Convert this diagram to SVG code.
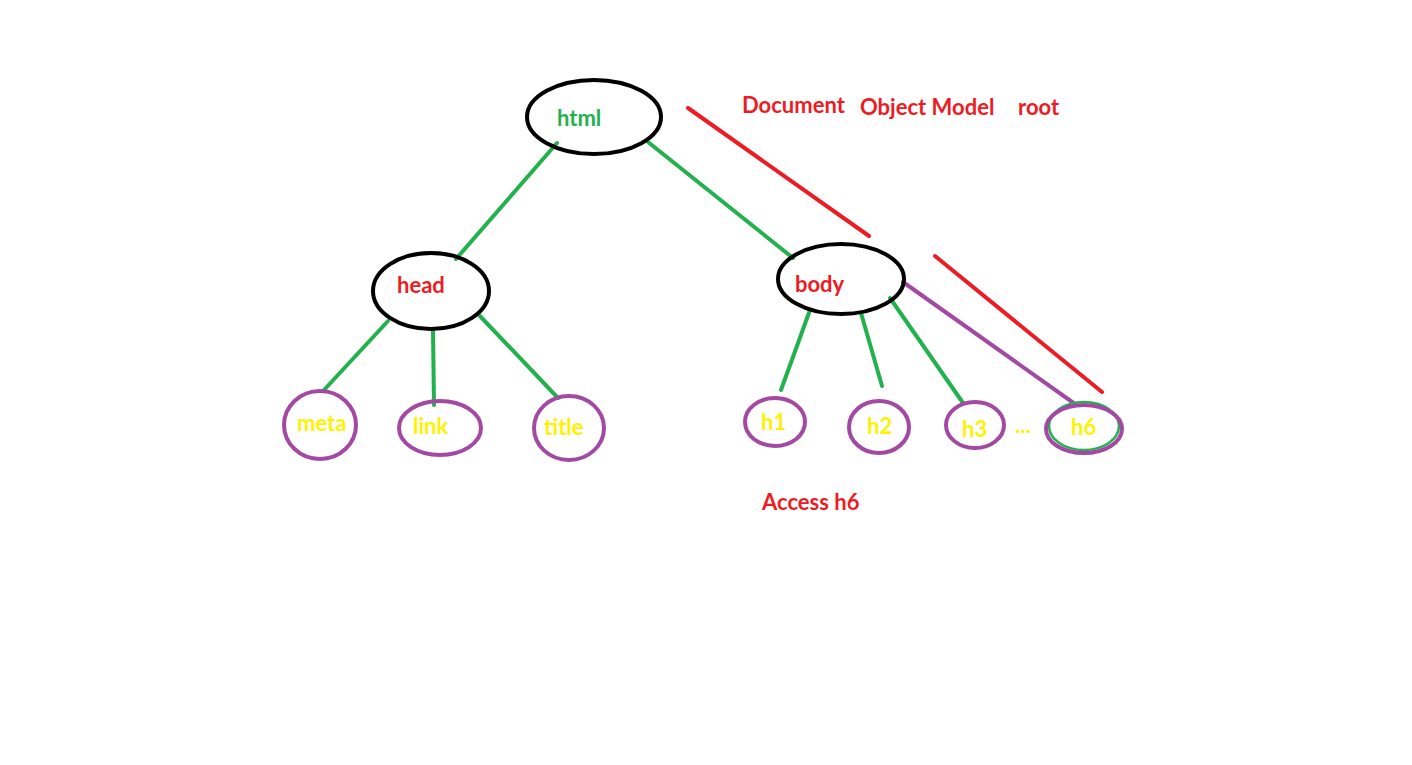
<svg xmlns="http://www.w3.org/2000/svg" width="1412" height="765" viewBox="0 0 1412 765">
<style>
.t{font-family:Lato,"Liberation Sans",sans-serif;font-weight:bold;font-size:22px}
.red{fill:#ED1C24}.yel{fill:#FFF200}.grn{fill:#22B14C}
.blk{fill:none;stroke:#000;stroke-width:4}
.pur{fill:none;stroke:#A349A4;stroke-width:4}
.gl{stroke:#22B14C;stroke-width:4;stroke-linecap:round}
.rl{stroke:#ED1C24;stroke-width:4;stroke-linecap:round}
.pl{stroke:#A349A4;stroke-width:4;stroke-linecap:round}
</style>
<rect width="1412" height="765" fill="#fff"/>
<g id="connectors">
<line class="gl" x1="557" y1="143" x2="456" y2="259"/>
<line class="gl" x1="648" y1="142" x2="793" y2="258"/>
<line class="gl" x1="388" y1="321" x2="324" y2="390"/>
<line class="gl" x1="433" y1="331" x2="434" y2="405"/>
<line class="gl" x1="479" y1="315" x2="558" y2="398"/>
<line class="gl" x1="810" y1="310" x2="781" y2="390"/>
<line class="gl" x1="861" y1="313" x2="882" y2="386"/>
<line class="gl" x1="890" y1="298" x2="963" y2="403"/>
<line class="pl" x1="903" y1="282" x2="1075" y2="404"/>
<line class="rl" x1="688" y1="108" x2="869" y2="236"/>
<line class="rl" x1="935" y1="256" x2="1102" y2="392"/>
</g>
<g id="html"><ellipse class="blk" cx="594" cy="117" rx="67" ry="37"/><text class="t grn" x="557" y="126">html</text></g>
<g id="head"><ellipse class="blk" cx="431" cy="291" rx="58" ry="38"/><text class="t red" x="397" y="293">head</text></g>
<g id="body"><ellipse class="blk" cx="841" cy="279" rx="63" ry="35"/><text class="t red" x="795" y="292">body</text></g>
<g id="meta"><ellipse class="pur" cx="320" cy="425" rx="36" ry="34"/><text class="t yel" x="297" y="431">meta</text></g>
<g id="link"><ellipse class="pur" cx="440" cy="428" rx="41" ry="27"/><text class="t yel" x="413" y="434">link</text></g>
<g id="title"><ellipse class="pur" cx="569" cy="428" rx="35" ry="32"/><text class="t yel" x="544" y="435">title</text></g>
<g id="h1"><ellipse class="pur" cx="775" cy="422" rx="30" ry="24"/><text class="t yel" x="761" y="430">h1</text></g>
<g id="h2"><ellipse class="pur" cx="879" cy="427" rx="30" ry="26"/><text class="t yel" x="867" y="434">h2</text></g>
<g id="h3"><ellipse class="pur" cx="975" cy="425" rx="29" ry="23"/><text class="t yel" x="962" y="437">h3</text></g>
<g id="dots"><text class="t yel" x="1015" y="433">...</text></g>
<g id="h6"><ellipse fill="none" stroke="#22B14C" stroke-width="2.5" cx="1084" cy="426" rx="35" ry="24"/><ellipse class="pur" cx="1084" cy="429" rx="38" ry="24"/><text class="t yel" x="1071" y="435">h6</text></g>
<g id="labels">
<text class="t red" x="742" y="113">Document</text>
<text class="t red" x="860" y="115">Object Model</text>
<text class="t red" x="1018" y="115">root</text>
<text class="t red" x="762" y="510">Access h6</text>
</g>
</svg>
